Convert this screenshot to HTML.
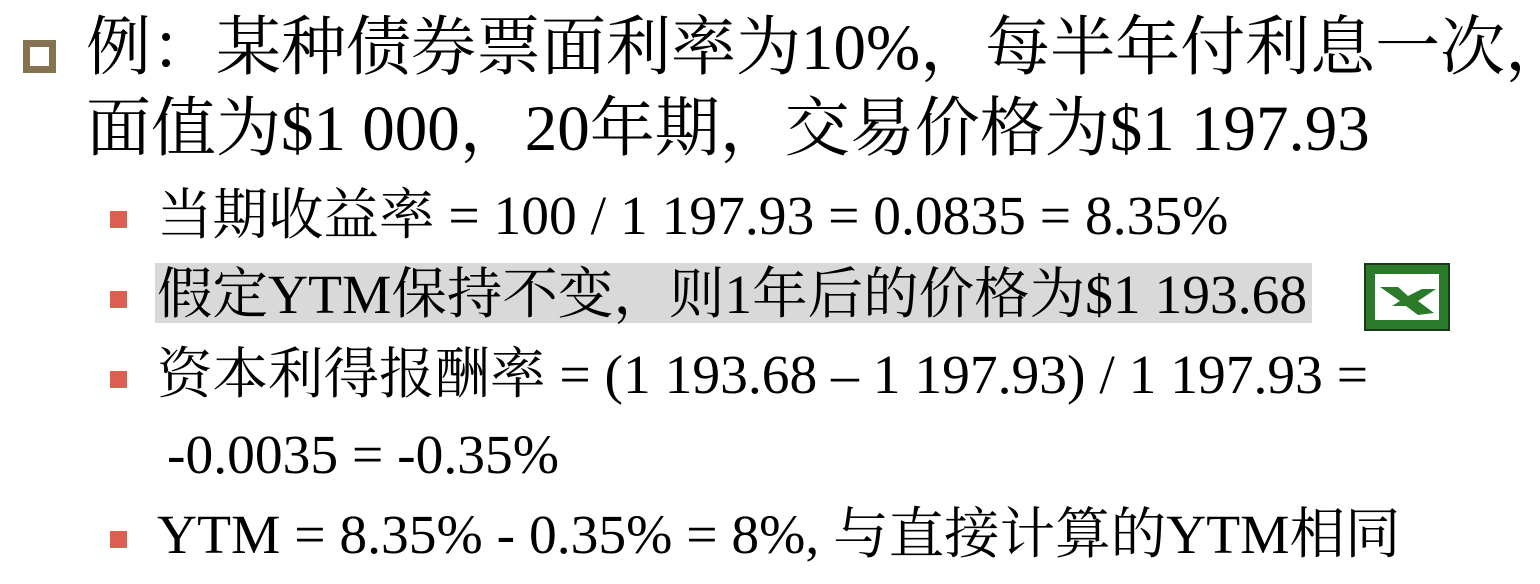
<!DOCTYPE html>
<html><head><meta charset="utf-8"><style>
body{margin:0;width:1540px;height:584px;background:#fff;position:relative;overflow:hidden;font-family:"Liberation Serif","Noto Serif CJK SC",serif;color:#000}
.t{position:absolute;white-space:nowrap;line-height:1}
.l1{font-size:65px;left:86px}
.l2{font-size:55.5px;left:157px}
.rb{position:absolute;left:110px;width:17px;height:17px;background:#dd5f50}
</style></head><body>
<div style="position:absolute;left:23px;top:40px;width:19px;height:19px;border:7px solid #857250"></div>
<div class="t l1" style="top:16px">例：某种债券票面利率为10%，每半年付利息一次，</div>
<div class="t l1" style="top:97px">面值为$1 000，20年期，交易价格为$1 197.93</div>
<div class="rb" style="top:211px"></div>
<div class="t l2" style="top:189px">当期收益率 = 100 / 1 197.93 = 0.0835 = 8.35%</div>
<div style="position:absolute;left:155px;top:263px;width:1157px;height:60px;background:#d9d9d9"></div>
<div class="rb" style="top:291px"></div>
<div class="t l2" style="top:268px">假定YTM保持不变，则1年后的价格为$1 193.68</div>
<div style="position:absolute;left:1364px;top:263px;width:86px;height:68px;background:#2a7a2a;box-sizing:border-box;border:2px solid #1a3a1a">
<div style="position:absolute;left:9px;top:9px;width:64px;height:46px;background:#fff"></div>
<svg width="86" height="68" style="position:absolute;left:0;top:0"><polygon points="14,22 32,22 42,31 56,24 70,24 52,36 68,48 52,50 40,41 26,41 34,36" fill="#2a7a2a"/></svg></div>
<div class="rb" style="top:371px"></div>
<div class="t l2" style="top:348px">资本利得报酬率 = (1 193.68 – 1 197.93) / 1 197.93 =</div>
<div class="t l2" style="top:428px;left:167px">-0.0035 = -0.35%</div>
<div class="rb" style="top:531px"></div>
<div class="t l2" style="top:508px">YTM = 8.35% - 0.35% = 8%, 与直接计算的YTM相同</div>
</body></html>
